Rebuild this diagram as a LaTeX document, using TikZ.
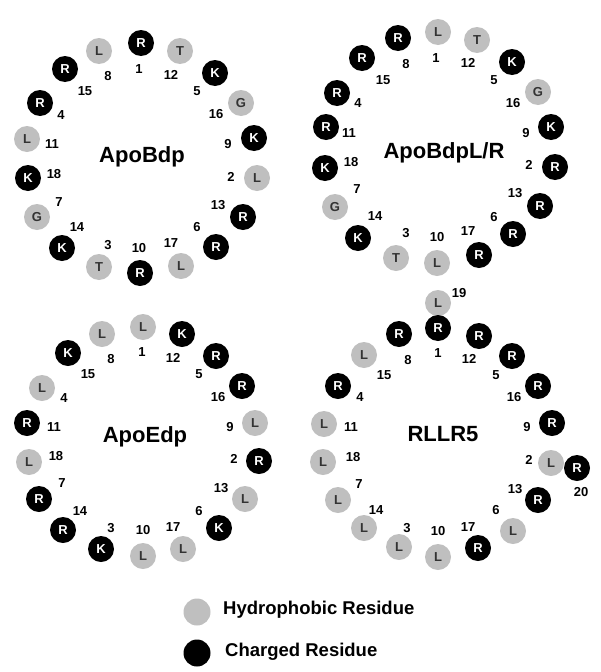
\documentclass[tikz,border=0pt]{standalone}
\usepackage{fontspec}
\setmainfont{Liberation Sans}
\usepackage{xcolor}
\usepackage{tikz}
\definecolor{hydgray}{RGB}{191,191,191}
\definecolor{txtgray}{RGB}{51,51,51}
\tikzset{
	res/.style={circle, inner sep=0pt, minimum size=26pt, font=\fontsize{13}{13}\selectfont\bfseries},
	hyd/.style={res, fill=hydgray, text=txtgray},
	chg/.style={res, fill=black, text=white},
	num/.style={inner sep=0pt, font=\fontsize{13}{13}\selectfont\bfseries},
	wheelname/.style={inner sep=0pt, font=\fontsize{22}{22}\selectfont\bfseries},
	legtext/.style={anchor=west, inner sep=0pt, font=\fontsize{18.5}{18.5}\selectfont\bfseries}
}
\begin{document}
\begin{tikzpicture}[x=1pt,y=-1pt]

\useasboundingbox (0,0) rectangle (600,672);

\foreach \x/\y/\aa/\kind/\n/\lx/\ly in {
141/43/R/chg/1/139/69, 257/178/L/hyd/2/231/177, 99/267/T/hyd/3/108/245,
40/103/R/chg/4/61/115, 215/73/K/chg/5/197/91, 216/247/R/chg/6/197/227,
37/217/G/hyd/7/59/202, 99/51/L/hyd/8/108/76, 254/138/K/chg/9/228/144,
140/273/R/chg/10/139/248, 27/139/L/hyd/11/52/144, 180/51/T/hyd/12/171/75,
243/217/R/chg/13/218/205, 62/248/K/chg/14/77/227, 65/69/R/chg/15/85/91,
241/103/G/hyd/16/216/114, 181/266/L/hyd/17/171/243, 28/178/K/chg/18/54/174}
{
\node[\kind] (bdp\n) at (\x,\y) {\aa};
\node[num] (bdpn\n) at (\lx,\ly) {\n};
}
\node[wheelname] (bdp) at (142,157) {ApoBdp};


\foreach \x/\y/\aa/\kind/\n/\lx/\ly in {
438/32/L/hyd/1/436/58, 555/167/R/chg/2/529/165, 396/258/T/hyd/3/406/233,
337/93/R/chg/4/358/103, 512/62/K/chg/5/494/80, 513/234/R/chg/6/494/217,
335/207/G/hyd/7/357/189, 398/38/R/chg/8/406/64, 551/127/K/chg/9/526/133,
437/263/L/hyd/10/437/237, 326/127/R/chg/11/349/133, 477/40/T/hyd/12/468/63,
540/206/R/chg/13/515/193, 358/238/K/chg/14/375/216, 362/58/R/chg/15/383/80,
538/92/G/hyd/16/513/103, 479/255/R/chg/17/468/231, 325/168/K/chg/18/351/162}
{
\node[\kind] (blr\n) at (\x,\y) {\aa};
\node[num] (blrn\n) at (\lx,\ly) {\n};
}
\node[wheelname] (blr) at (444,153) {ApoBdpL/R};


\foreach \x/\y/\aa/\kind/\n/\lx/\ly in {
143/327/L/hyd/1/142/352, 259/461/R/chg/2/234/459, 101/549/K/chg/3/111/528,
42/388/L/hyd/4/64/398, 216/356/R/chg/5/199/374, 219/528/K/chg/6/199/511,
39/499/R/chg/7/62/483, 102/334/L/hyd/8/111/359, 255/423/L/hyd/9/230/427,
143/556/L/hyd/10/143/530, 27/423/R/chg/11/54/427, 182/334/K/chg/12/173/358,
245/499/L/hyd/13/221/488, 63/530/R/chg/14/80/511, 68/353/K/chg/15/88/374,
242/386/R/chg/16/218/397, 183/549/L/hyd/17/173/527, 29/462/L/hyd/18/56/456}
{
\node[\kind] (edp\n) at (\x,\y) {\aa};
\node[num] (edpn\n) at (\lx,\ly) {\n};
}
\node[wheelname] (edp) at (145,437) {ApoEdp};


\foreach \x/\y/\aa/\kind/\n/\lx/\ly in {
438/303/L/hyd/19/459/293, 438/328/R/chg/1/438/353, 551/463/L/hyd/2/529/460,
399/547/L/hyd/3/407/528, 338/386/R/chg/4/360/397, 512/356/R/chg/5/496/375,
513/531/L/hyd/6/496/510, 338/500/L/hyd/7/359/484, 399/334/R/chg/8/408/360,
552/423/R/chg/9/527/427, 438/557/L/hyd/10/438/531, 324/424/L/hyd/11/351/427,
479/336/R/chg/12/469/359, 538/500/R/chg/13/515/489, 364/528/L/hyd/14/376/510,
364/355/L/hyd/15/384/375, 538/386/R/chg/16/514/397, 478/548/R/chg/17/468/527,
323/462/L/hyd/18/353/457, 577/468/R/chg/20/581/492}
{
\node[\kind] (rl\n) at (\x,\y) {\aa};
\node[num] (rln\n) at (\lx,\ly) {\n};
}
\node[wheelname] (rl) at (443,434) {RLLR5};


\node[hyd, minimum size=27pt] (keyhyd) at (197,612) {};
\node[legtext] (keyhydtxt) at (223,610) {Hydrophobic Residue};
\node[chg, minimum size=27pt] (keychg) at (197,653) {};
\node[legtext] (keychgtxt) at (225,652) {Charged Residue};

\end{tikzpicture}
\end{document}
